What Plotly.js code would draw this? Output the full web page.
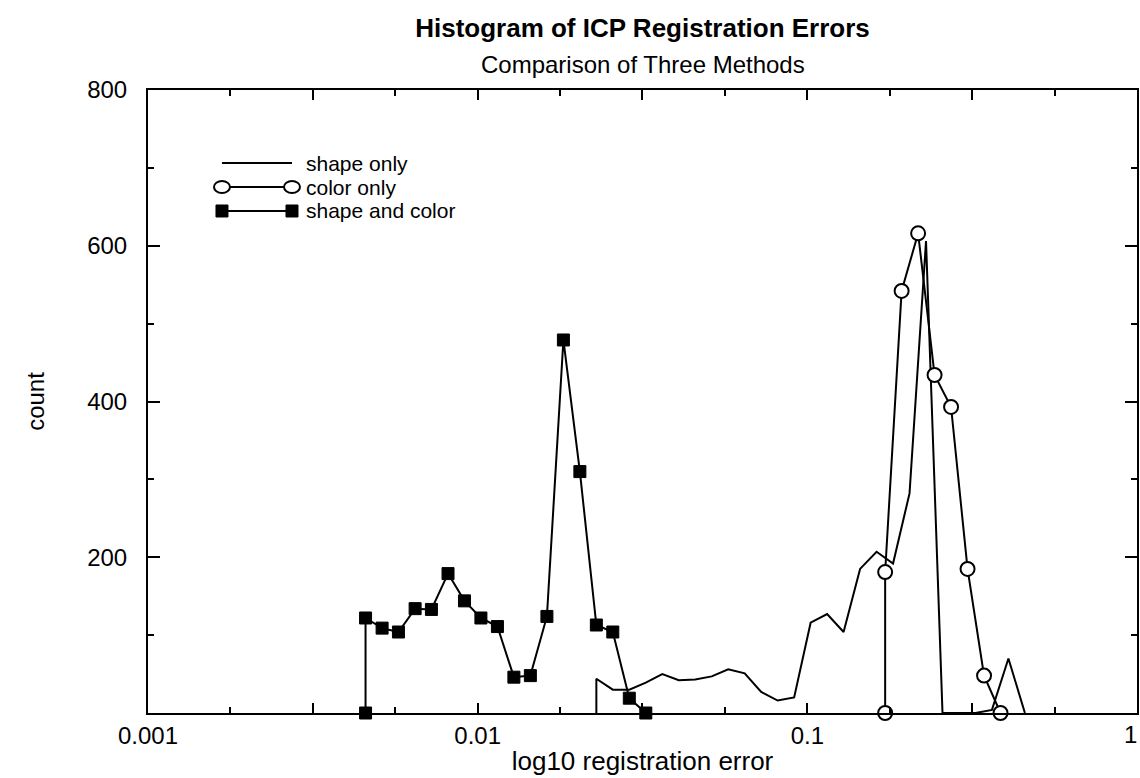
<!DOCTYPE html>
<html>
<head>
<meta charset="utf-8">
<script src="https://cdn.plot.ly/plotly-3.0.1.min.js"></script>
<style>html,body{margin:0;padding:0;background:#fff;}#chart{width:1140px;height:778px;}</style>
</head>
<body>
<div id="chart"></div>
<script>
// shape and color (filled squares)
const bothX = [0.00457, 0.00457, 0.00513, 0.00575, 0.00646, 0.00724, 0.00813, 0.00912, 0.01023, 0.01148, 0.01288, 0.01445, 0.01622, 0.01820, 0.02042, 0.02291, 0.02570, 0.02884, 0.03236];
const bothY = [0, 122, 109, 104, 134, 133, 179, 144, 122, 111, 46, 48, 124, 479, 310, 113, 104, 19, 0];

// shape only (plain line)
const shapeX = [0.02291, 0.02291, 0.02570, 0.02884, 0.03236, 0.03631, 0.04074, 0.04571, 0.05129, 0.05754, 0.06457, 0.07244, 0.08128, 0.09120, 0.10233, 0.11482, 0.12882, 0.14454, 0.16218, 0.18197, 0.20417, 0.22909, 0.25704, 0.28840, 0.32359, 0.36308, 0.40738, 0.45709];
const shapeY = [0, 44, 30, 30, 39, 50, 42, 43, 47, 56, 51, 27, 16, 20, 116, 127, 104, 185, 207, 192, 282, 606, 0, 0, 0, 4, 70, 0];

// color only (open circles)
const colorX = [0.1722, 0.1722, 0.1932, 0.2168, 0.2432, 0.2729, 0.3062, 0.3436, 0.3855];
const colorY = [0, 181, 542, 616, 434, 393, 185, 48, 0];

const seriesNames = ['shape only', 'color only', 'shape and color'];

const xMajorTicks = [0.001, 0.003162, 0.01, 0.03162, 0.1, 0.3162, 1];
const xMajorLabels = ['0.001', '', '0.01', '', '0.1', '', ''];
const xMinorTicks = [0.001778, 0.005623, 0.01778, 0.05623, 0.1778, 0.5623];
const yTicks = [0, 200, 400, 600, 800];
const yLabels = ['', '200', '400', '600', '800'];

const FONT = 'Liberation Sans, Arial, Helvetica, sans-serif';

const traces = [
  {
    x: shapeX, y: shapeY, name: seriesNames[0], type: 'scatter', mode: 'lines',
    line: {color: '#000', width: 2}, cliponaxis: false, showlegend: false
  },
  {
    x: colorX, y: colorY, name: seriesNames[1], type: 'scatter', mode: 'lines+markers',
    line: {color: '#000', width: 2},
    marker: {symbol: 'circle', size: 14, color: '#fff', line: {color: '#000', width: 2}},
    cliponaxis: false, showlegend: false
  },
  {
    x: bothX, y: bothY, name: seriesNames[2], type: 'scatter', mode: 'lines+markers',
    line: {color: '#000', width: 2},
    marker: {symbol: 'square', size: 12, color: '#000', line: {color: '#000', width: 1}},
    cliponaxis: false, showlegend: false
  }
];

// custom legend (paper coordinates of the plot area)
const legX0 = 0.0748, legX1 = 0.1456, legTextX = 0.1578;
const legRows = [0.8828, 0.8443, 0.8058];
const shapes = [];
const annotations = [];
legRows.forEach((ry, i) => {
  shapes.push({type: 'line', xref: 'paper', yref: 'paper', x0: legX0, x1: legX1, y0: ry, y1: ry,
               line: {color: '#000', width: 2}});
  if (i === 1) {
    [legX0, legX1].forEach(ax => shapes.push({type: 'circle', xref: 'paper', yref: 'paper',
      xsizemode: 'pixel', ysizemode: 'pixel', xanchor: ax, yanchor: ry,
      x0: -8, x1: 8, y0: -6, y1: 6, fillcolor: '#fff', line: {color: '#000', width: 2}}));
  }
  if (i === 2) {
    [legX0, legX1].forEach(ax => shapes.push({type: 'rect', xref: 'paper', yref: 'paper',
      xsizemode: 'pixel', ysizemode: 'pixel', xanchor: ax, yanchor: ry,
      x0: -6, x1: 6, y0: -6, y1: 6, fillcolor: '#000', line: {color: '#000', width: 1}}));
  }
  annotations.push({text: seriesNames[i], showarrow: false, xref: 'paper', yref: 'paper',
    x: legTextX, y: ry, xanchor: 'left', yanchor: 'middle',
    font: {family: FONT, size: 21, color: '#000'}});
});
annotations.push({
  text: 'Comparison of Three Methods', showarrow: false,
  xref: 'paper', yref: 'paper', x: 0.5, y: 1, yanchor: 'bottom', yshift: 10,
  font: {family: FONT, size: 24, color: '#000'}
});
annotations.push({
  text: '1', showarrow: false, xref: 'paper', yref: 'paper', x: 1, y: 0,
  xanchor: 'right', yanchor: 'top', xshift: 2, yshift: -6,
  font: {family: FONT, size: 24, color: '#000'}
});

const layout = {
  width: 1140, height: 778,
  paper_bgcolor: '#fff', plot_bgcolor: '#fff',
  margin: {l: 148, r: 3, t: 90, b: 65},
  font: {family: FONT, color: '#000', size: 24},
  title: {
    text: '<b>Histogram of ICP Registration Errors</b>',
    font: {family: FONT, size: 26, color: '#000'},
    x: 0.5, xref: 'paper', xanchor: 'center',
    y: 0.964, yref: 'container', yanchor: 'middle'
  },
  shapes: shapes,
  annotations: annotations,
  xaxis: {
    type: 'log', range: [-3, 0],
    tickmode: 'array', tickvals: xMajorTicks, ticktext: xMajorLabels,
    ticks: 'inside', ticklen: 10, tickwidth: 2, tickcolor: '#000',
    minor: {tickmode: 'array', tickvals: xMinorTicks, ticks: 'inside', ticklen: 6, tickwidth: 2, tickcolor: '#000', showgrid: false},
    showline: true, linecolor: '#000', linewidth: 2, mirror: 'allticks',
    showgrid: false, zeroline: false,
    tickfont: {family: FONT, size: 24, color: '#000'},
    title: {text: 'log10 registration error', font: {family: FONT, size: 26, color: '#000'}, standoff: 4}
  },
  yaxis: {
    range: [0, 800], tickmode: 'array', tickvals: yTicks, ticktext: yLabels,
    ticks: 'inside', ticklen: 12, tickwidth: 2, tickcolor: '#000',
    minor: {dtick: 100, ticks: 'inside', ticklen: 6, tickwidth: 2, tickcolor: '#000', showgrid: false},
    showline: true, linecolor: '#000', linewidth: 2, mirror: 'allticks',
    showgrid: false, zeroline: false,
    tickfont: {family: FONT, size: 24, color: '#000'},
    ticklabelstandoff: 14,
    title: {text: 'count', font: {family: FONT, size: 24, color: '#000'}, standoff: 36}
  },
  showlegend: false
};

Plotly.newPlot('chart', traces, layout, {displayModeBar: false, staticPlot: true});
</script>
</body>
</html>
